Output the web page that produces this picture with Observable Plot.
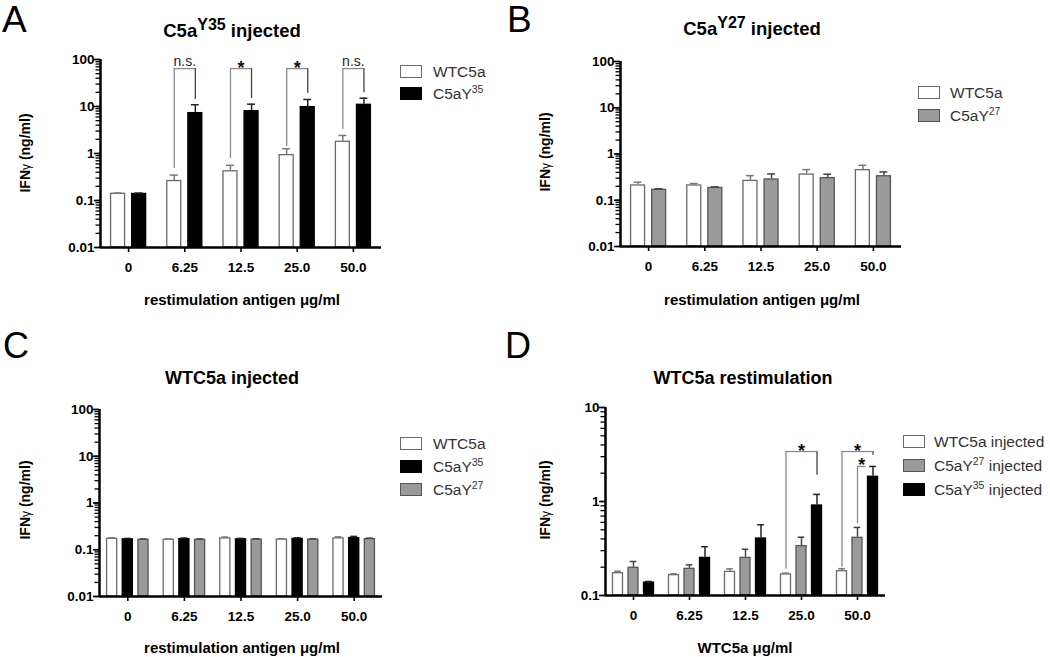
<!DOCTYPE html>
<html><head><meta charset="utf-8">
<script src="https://cdn.jsdelivr.net/npm/d3@7"></script>
<script src="https://cdn.jsdelivr.net/npm/@observablehq/plot@0.6"></script>
<style>
body{margin:0;background:#fff;}
#root{position:relative;width:1050px;height:657px;overflow:hidden;font-family:"Liberation Sans",Arial,sans-serif;color:#000;}
.t{position:absolute;white-space:nowrap;line-height:1;}
.panel{position:absolute;}
.sup{position:relative;}
.box{position:absolute;width:22px;height:13px;box-sizing:border-box;}
</style></head><body><div id="root"></div>
<script>
// ---------- data ----------
const categories = ["0", "6.25", "12.5", "25.0", "50.0"];
const yTicksABC = [0.01, 0.1, 1, 10, 100];
const yTickLabelsABC = ["0.01", "0.1", "1", "10", "100"];
const yTicksD = [0.1, 1, 10];
const yTickLabelsD = ["0.1", "1", "10"];

// Panel A: C5aY35 injected
const aWT = [0.143, 0.267, 0.43, 0.95, 1.83];
const aWTErr = [0.144, 0.347, 0.56, 1.26, 2.42];
const aY35 = [0.142, 7.45, 8.2, 10.0, 11.2];
const aY35Err = [0.144, 10.9, 11.2, 14.1, 15.0];
const aSigCat = [1, 2, 3, 4];
const aSigLabel = ["n.s.", "*", "*", "n.s."];
const aSigTop = [64, 64, 64, 64];
const aSigFromEnd = [0.48, 0.78, 1.41, 3.24];
const aSigToEnd = [14.1, 14.8, 18.9, 19.6];
const aSigFrom = [0, 0, 0, 0];
const aSigTo = [1, 1, 1, 1];

// Panel B: C5aY27 injected
const bWT = [0.215, 0.215, 0.27, 0.37, 0.46];
const bWTErr = [0.245, 0.23, 0.34, 0.46, 0.57];
const bY27 = [0.173, 0.19, 0.29, 0.31, 0.34];
const bY27Err = [0.177, 0.195, 0.37, 0.365, 0.41];

// Panel C: WTC5a injected
const cWT = [0.176, 0.168, 0.18, 0.17, 0.18];
const cWTErr = [0.18, 0.17, 0.187, 0.173, 0.189];
const cY35 = [0.172, 0.174, 0.172, 0.176, 0.183];
const cY35Err = [0.175, 0.178, 0.175, 0.18, 0.193];
const cY27 = [0.168, 0.168, 0.17, 0.17, 0.174];
const cY27Err = [0.17, 0.17, 0.172, 0.172, 0.177];

// Panel D: WTC5a restimulation
const dWT = [0.175, 0.167, 0.181, 0.17, 0.184];
const dWTErr = [0.181, 0.17, 0.192, 0.173, 0.193];
const dY27 = [0.2, 0.195, 0.255, 0.34, 0.417];
const dY27Err = [0.23, 0.212, 0.31, 0.417, 0.53];
const dY35 = [0.139, 0.255, 0.41, 0.92, 1.86];
const dY35Err = [0.141, 0.33, 0.565, 1.19, 2.36];
const dSigCat = [3, 4, 4];
const dSigLabel = ["*", "*", "*"];
const dSigFrom = [0, 0, 1];
const dSigTo = [2, 2, 1.55];
const dSigTop = [3.4, 3.4, 2.36];
const dSigFromEnd = [0.19, 0.2, 0.58];
const dSigToEnd = [1.9, 3.1, 2.36];

// ---------- styles ----------
const WHITE = {fill: "#fff", stroke: "#6a6a6a", err: "#7a7a7a"};
const BLACK = {fill: "#000", stroke: "#000", err: "#222"};
const GRAY = {fill: "#9a9a9a", stroke: "#555", err: "#444"};

const root = document.getElementById("root");

function txt(html, x, cy, fs, opts = {}) {
  const d = document.createElement("div");
  d.className = "t";
  d.innerHTML = html;
  d.style.fontSize = fs + "px";
  d.style.left = x + "px";
  d.style.top = (cy - fs / 2) + "px";
  d.style.fontWeight = opts.weight || "normal";
  if (opts.color) d.style.color = opts.color;
  let tr = "";
  if (opts.center) tr += "translateX(-50%) ";
  if (opts.rotate) { d.style.top = cy + "px"; tr = "translate(-50%,-50%) rotate(-90deg)"; }
  d.style.transform = tr;
  root.appendChild(d);
  return d;
}

function legend(x, tops, items, textX) {
  items.forEach((it, k) => {
    const b = document.createElement("div");
    b.className = "box";
    b.style.left = x + "px";
    b.style.top = tops[k] + "px";
    b.style.background = it.style.fill;
    b.style.border = "1.5px solid " + it.style.stroke;
    root.appendChild(b);
    txt(it.label, textX, tops[k] + 7, 15.5, {color: "#333"});
  });
}

function panel(cfg) {
  const n = cfg.series.length;
  const xOf = (i, s) => i + (s - (n - 1) / 2) * cfg.pitch;
  const marks = [];
  const y0 = cfg.yDomain[0];
  cfg.series.forEach((s, si) => {
    const rows = categories.map((c, i) => ({i, x: xOf(i, si), v: s.v[i], e: s.e[i]}));
    marks.push(Plot.rect(rows, {x1: d => d.x - cfg.barW / 2, x2: d => d.x + cfg.barW / 2, y1: y0, y2: "v",
      fill: s.style.fill, stroke: s.style.stroke, strokeWidth: 1.3, insetTop: 0.6, insetLeft: 0.6, insetRight: 0.6}));
    marks.push(Plot.ruleX(rows, {x: "x", y1: "v", y2: "e", stroke: s.style.err, strokeWidth: 1.5}));
    marks.push(Plot.ruleY(rows, {y: "e", x1: d => d.x - cfg.capW, x2: d => d.x + cfg.capW, stroke: s.style.err, strokeWidth: 1.5}));
  });
  if (cfg.sig) {
    const g = cfg.sig;
    const rows = g.cat.map((c, k) => ({
      xa: xOf(c, g.from[k]), xb: xOf(c, g.to[k]), top: g.top[k], ea: g.fromEnd[k], eb: g.toEnd[k],
      label: g.label[k], xm: (xOf(c, g.from[k]) + xOf(c, g.to[k])) / 2
    }));
    marks.push(Plot.ruleX(rows, {x: "xa", y1: "ea", y2: "top", stroke: "#8a8a8a", strokeWidth: 1.3}));
    marks.push(Plot.ruleY(rows, {y: "top", x1: "xa", x2: "xb", stroke: "#8a8a8a", strokeWidth: 1.3}));
    marks.push(Plot.ruleX(rows, {x: "xb", y1: "eb", y2: "top", stroke: "#444", strokeWidth: 1.3}));
    marks.push(Plot.text(rows.filter(d => d.label === "*"), {x: "xm", y: "top", text: "label", lineAnchor: "bottom", dy: 5, fontSize: 18, fontWeight: "bold", fill: "#111"}));
    marks.push(Plot.text(rows.filter(d => d.label !== "*"), {x: "xm", y: "top", text: "label", lineAnchor: "bottom", dy: -3, fontSize: 14, fontWeight: "normal", fill: "#222"}));
  }
  // axes
  const minorTicks = d3.scaleLog().domain(cfg.yDomain).ticks();
  marks.push(Plot.axisY({ticks: minorTicks, tickFormat: () => "", tickSize: 4.5, strokeWidth: 1.3, label: null}));
  marks.push(Plot.axisY({ticks: cfg.yTicks, tickFormat: d => cfg.yLabels[cfg.yTicks.indexOf(d)], tickSize: 6, tickPadding: 0, strokeWidth: 1.6, label: null}));
  marks.push(Plot.axisX({ticks: [0, 1, 2, 3, 4], tickFormat: i => categories[i], tickSize: 5, tickPadding: 10, strokeWidth: 1.6, label: null}));
  marks.push(Plot.ruleX([-0.5], {y1: cfg.yDomain[0], y2: cfg.yDomain[1], strokeWidth: 2.5}));
  marks.push(Plot.ruleY([cfg.yDomain[0]], {x1: -0.5, x2: 4.5, strokeWidth: 2.5}));
  const svg = Plot.plot({
    width: cfg.width, height: cfg.height,
    marginTop: cfg.m[0], marginRight: cfg.m[1], marginBottom: cfg.m[2], marginLeft: cfg.m[3],
    x: {type: "linear", domain: [-0.5, 4.5], label: null},
    y: {type: "log", domain: cfg.yDomain, label: null},
    style: {fontFamily: '"Liberation Sans", Arial, sans-serif', fontSize: "13.5px", fontWeight: "bold", color: "#000", background: "transparent", overflow: "visible"},
    marks
  });
  svg.classList.add("panel");
  svg.style.left = cfg.left + "px";
  svg.style.top = cfg.top + "px";
  root.appendChild(svg);
}

// Panel A
panel({left: 0, top: 0, width: 520, height: 320, m: [59, 139, 73, 100], yDomain: [0.01, 100], yTicks: yTicksABC, yLabels: yTickLabelsABC,
  barW: 0.27, pitch: 0.375, capW: 0.07,
  series: [{v: aWT, e: aWTErr, style: WHITE}, {v: aY35, e: aY35Err, style: BLACK}],
  sig: {cat: aSigCat, label: aSigLabel, top: aSigTop, fromEnd: aSigFromEnd, toEnd: aSigToEnd, from: aSigFrom, to: aSigTo}});
// Panel B
panel({left: 520, top: 0, width: 530, height: 320, m: [61, 149, 74, 100], yDomain: [0.01, 100], yTicks: yTicksABC, yLabels: yTickLabelsABC,
  barW: 0.27, pitch: 0.375, capW: 0.07,
  series: [{v: bWT, e: bWTErr, style: WHITE}, {v: bY27, e: bY27Err, style: GRAY}]});
// Panel C
panel({left: 0, top: 320, width: 520, height: 337, m: [89, 138, 61, 99], yDomain: [0.01, 100], yTicks: yTicksABC, yLabels: yTickLabelsABC,
  barW: 0.2, pitch: 0.277, capW: 0.06,
  series: [{v: cWT, e: cWTErr, style: WHITE}, {v: cY35, e: cY35Err, style: BLACK}, {v: cY27, e: cY27Err, style: GRAY}]});
// Panel D
panel({left: 520, top: 320, width: 530, height: 337, m: [87, 165, 62, 85], yDomain: [0.1, 10], yTicks: yTicksD, yLabels: yTickLabelsD,
  barW: 0.2, pitch: 0.277, capW: 0.06,
  series: [{v: dWT, e: dWTErr, style: WHITE}, {v: dY27, e: dY27Err, style: GRAY}, {v: dY35, e: dY35Err, style: BLACK}],
  sig: {cat: dSigCat, label: dSigLabel, top: dSigTop, fromEnd: dSigFromEnd, toEnd: dSigToEnd, from: dSigFrom, to: dSigTo}});

// ---------- text ----------
const supBig = s => `<span class="sup" style="font-size:16px;top:-7px">${s}</span>`;
const supSmall = s => `<span class="sup" style="font-size:10.5px;top:-6px">${s}</span>`;
const yTitle = `IFN<span style="font-weight:normal;font-size:12px">γ</span> (ng/ml)`;

// panel letters
txt("A", 2, 19, 37);
txt("B", 507, 19, 37);
txt("C", 3, 346, 36);
txt("D", 505, 346, 36);
// titles
txt(`C5a${supBig("Y35")} injected`, 232, 31, 18.5, {weight: "bold", center: true});
txt(`C5a${supBig("Y27")} injected`, 752, 29, 18.5, {weight: "bold", center: true});
txt("WTC5a injected", 232, 378, 18, {weight: "bold", center: true});
txt("WTC5a restimulation", 743, 378, 18, {weight: "bold", center: true});
// y titles
txt(yTitle, 25, 153, 14, {weight: "bold", rotate: true});
txt(yTitle, 545, 152, 14, {weight: "bold", rotate: true});
txt(yTitle, 25, 500, 14, {weight: "bold", rotate: true});
txt(yTitle, 545, 500, 14, {weight: "bold", rotate: true});
// x titles
txt("restimulation antigen μg/ml", 242, 299, 15, {weight: "bold", center: true});
txt("restimulation antigen μg/ml", 762, 299, 15, {weight: "bold", center: true});
txt("restimulation antigen μg/ml", 242, 647, 15, {weight: "bold", center: true});
txt("WTC5a μg/ml", 745, 647, 15, {weight: "bold", center: true});
// legends
legend(400, [65, 87], [{label: "WTC5a", style: WHITE}, {label: `C5aY${supSmall("35")}`, style: BLACK}], 433);
legend(918, [86, 109], [{label: "WTC5a", style: WHITE}, {label: `C5aY${supSmall("27")}`, style: GRAY}], 950);
legend(400, [437, 460, 483], [{label: "WTC5a", style: WHITE}, {label: `C5aY${supSmall("35")}`, style: BLACK}, {label: `C5aY${supSmall("27")}`, style: GRAY}], 433);
legend(903, [435, 459, 483], [{label: "WTC5a injected", style: WHITE}, {label: `C5aY${supSmall("27")} injected`, style: GRAY}, {label: `C5aY${supSmall("35")} injected`, style: BLACK}], 934);
</script></body></html>
